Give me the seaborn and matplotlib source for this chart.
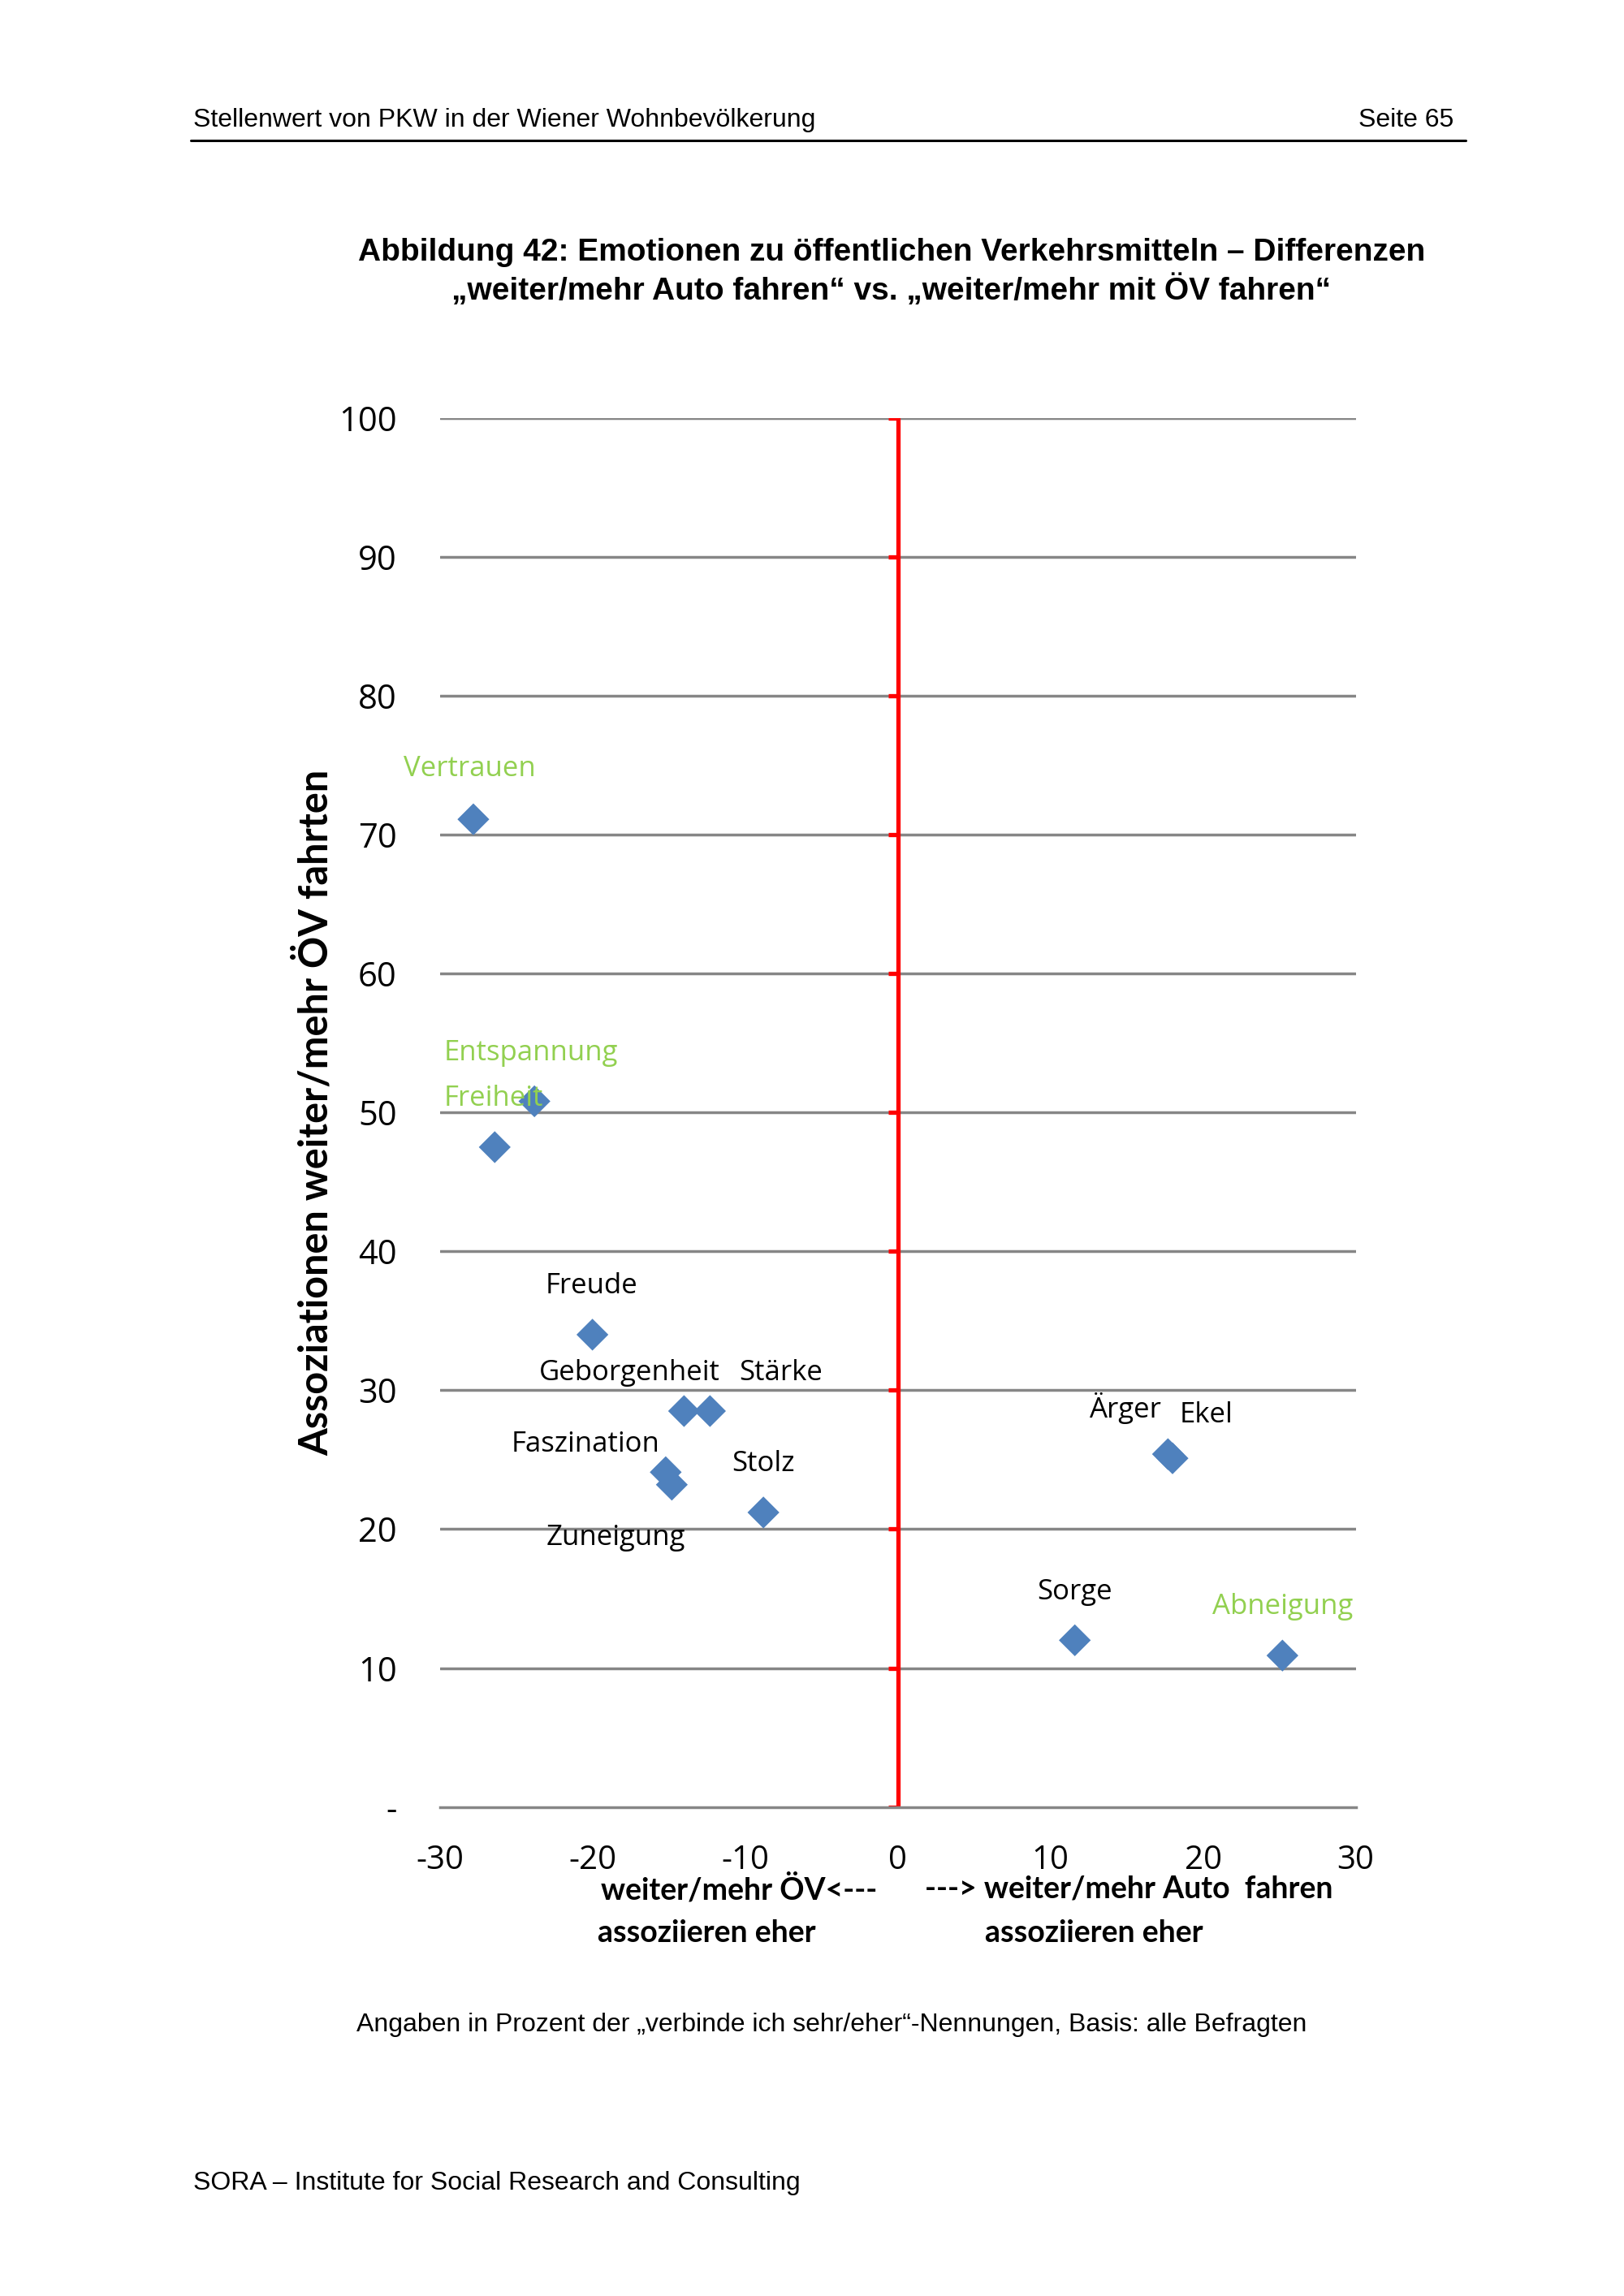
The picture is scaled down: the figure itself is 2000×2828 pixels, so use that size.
import matplotlib
matplotlib.use('Agg')
import matplotlib.pyplot as plt
from matplotlib.markers import TICKLEFT
import seaborn as sns
import pandas as pd

# values
emotions = ['Vertrauen', 'Entspannung', 'Freiheit', 'Freude', 'Geborgenheit', 'Stärke',
            'Faszination', 'Zuneigung', 'Stolz', 'Ärger', 'Ekel', 'Sorge', 'Abneigung']
diff_auto_oev = [-27.8, -23.8, -26.4, -20.0, -14.0, -12.3, -15.2, -14.8, -8.8, 17.7, 18.0, 11.6, 25.2]
assoc_oev = [71.1, 50.8, 47.5, 34.0, 28.5, 28.5, 24.1, 23.2, 21.2, 25.4, 25.1, 12.0, 10.9]
highlighted = ['Vertrauen', 'Entspannung', 'Freiheit', 'Abneigung']

x_ticks = [-30, -20, -10, 0, 10, 20, 30]
y_ticks = [0, 10, 20, 30, 40, 50, 60, 70, 80, 90, 100]
y_ticklabels = ['-', '10', '20', '30', '40', '50', '60', '70', '80', '90', '100']

# label offsets (points) relative to each marker
label_offsets = {'Vertrauen': (-3, 45), 'Entspannung': (-3, 43), 'Freiheit': (-1, 43),
                 'Freude': (-1, 43), 'Geborgenheit': (-48, 34), 'Stärke': (63, 34),
                 'Faszination': (-71, 25), 'Zuneigung': (-50, -47), 'Stolz': (0, 43),
                 'Ärger': (-38, 41), 'Ekel': (30, 38), 'Sorge': (0, 43), 'Abneigung': (0, 43)}

df = pd.DataFrame({'Emotion': emotions, 'x': diff_auto_oev, 'y': assoc_oev})

sns.set_style('white')
plt.rcParams['font.family'] = ['Open Sans', 'DejaVu Sans']
plt.rcParams['axes.unicode_minus'] = False
plt.rcParams['text.color'] = 'black'
plt.rcParams['axes.labelcolor'] = 'black'
plt.rcParams['xtick.labelcolor'] = 'black'
plt.rcParams['ytick.labelcolor'] = 'black'

BLUE = '#4F81BD'
GREEN = '#92D050'
GRID = '#868686'
LABEL_FONT = ['Lato', 'DejaVu Sans']
PAGE_FONT = ['Liberation Sans', 'DejaVu Sans']

fig = plt.figure(figsize=(20, 28.28), dpi=100)
ax = fig.add_axes([0.2708, 0.213, 0.564, 0.605])

for v in y_ticks[1:]:
    ax.axhline(v, color=GRID, lw=2.5, zorder=1)
ax.axvline(0, color='#FF0000', lw=3.8, zorder=2)
ax.plot([0] * len(y_ticks), y_ticks, linestyle='none', marker=TICKLEFT,
        markersize=9, markeredgewidth=3.8, color='#FF0000', zorder=2)

sns.scatterplot(data=df, x='x', y='y', marker='D', s=400, color=BLUE,
                edgecolor='none', ax=ax, zorder=3)

for name, x, y in zip(emotions, diff_auto_oev, assoc_oev):
    ax.annotate(name, (x, y), xytext=label_offsets[name], textcoords='offset points',
                ha='center', va='center', fontsize=25,
                color=GREEN if name in highlighted else 'black', zorder=4)

ax.set_xlim(-30, 30)
ax.set_ylim(0, 100)
ax.set_xticks(x_ticks)
ax.set_yticks(y_ticks)
ax.set_yticklabels(y_ticklabels)
for s in ['left', 'right', 'top']:
    ax.spines[s].set_visible(False)
ax.spines['bottom'].set_color(GRID)
ax.spines['bottom'].set_linewidth(2.5)
ax.tick_params(axis='x', direction='out', length=11, width=2.5, color=GRID,
               labelsize=29, pad=22)
ax.tick_params(axis='y', length=0, labelsize=30, pad=38)
ax.set_xlabel('')
ax.set_ylabel('Assoziationen weiter/mehr ÖV fahrten', fontsize=35, fontweight='bold',
              family=LABEL_FONT, labelpad=4)

xlab = dict(ha='left', va='center', fontsize=27, fontweight='bold', family=LABEL_FONT)
fig.text(0.370, 0.1773, 'weiter/mehr ÖV<---', **xlab)
fig.text(0.368, 0.1580, 'assoziieren eher', **xlab)
fig.text(0.5695, 0.1773, '---> weiter/mehr Auto  fahren', **xlab)
fig.text(0.6065, 0.1580, 'assoziieren eher', **xlab)

# page elements
fig.text(0.119, 0.9477, 'Stellenwert von PKW in der Wiener Wohnbevölkerung', fontsize=23,
         family=PAGE_FONT, va='center')
fig.text(0.895, 0.9477, 'Seite 65', fontsize=23, family=PAGE_FONT, va='center', ha='right')
fig.add_artist(plt.Line2D([0.1173, 0.9025], [0.9387, 0.9387], color='black', lw=2.2))

fig.text(0.549, 0.8902, 'Abbildung 42: Emotionen zu öffentlichen Verkehrsmitteln – Differenzen',
         fontsize=28, fontweight='bold', family=PAGE_FONT, ha='center', va='center')
fig.text(0.549, 0.8736, '„weiter/mehr Auto fahren“ vs. „weiter/mehr mit ÖV fahren“',
         fontsize=28, fontweight='bold', family=PAGE_FONT, ha='center', va='center')

fig.text(0.2193, 0.1181, 'Angaben in Prozent der „verbinde ich sehr/eher“-Nennungen, Basis: alle Befragten',
         fontsize=23, family=PAGE_FONT, va='center')
fig.text(0.119, 0.0491, 'SORA – Institute for Social Research and Consulting', fontsize=23,
         family=PAGE_FONT, va='center')

fig.savefig('out.png', dpi=100, facecolor='white')
